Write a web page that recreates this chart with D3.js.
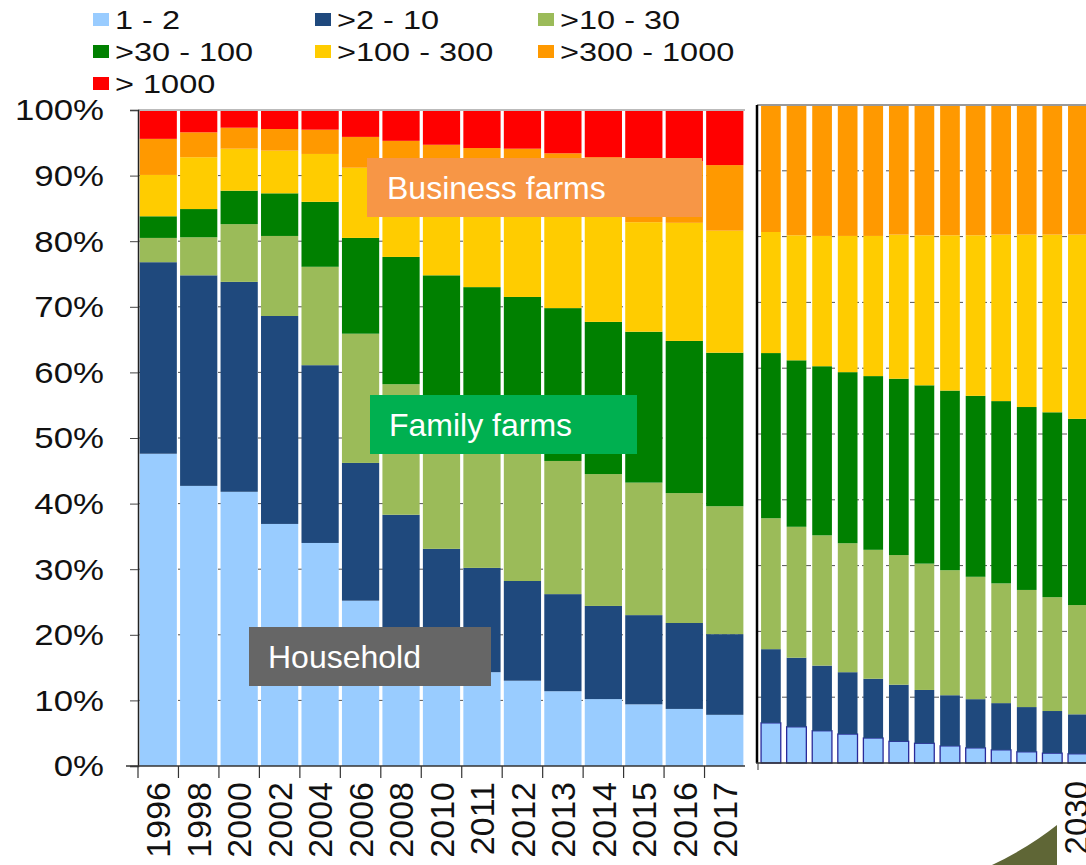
<!DOCTYPE html>
<html>
<head>
<meta charset="utf-8">
<script src="https://cdn.jsdelivr.net/npm/d3@7"></script>
<style>
  html, body { margin: 0; padding: 0; background: #fff; }
  svg { display: block; font-family: "Liberation Sans", Arial, sans-serif; }
</style>
</head>
<body>
<svg id="chart" width="1086" height="865"></svg>
<script>
// ---------- DATA ----------
const seriesNames = ["1 - 2", ">2 - 10", ">10 - 30", ">30 - 100", ">100 - 300", ">300 - 1000", "> 1000"];
const seriesColors = ["#99CCFF", "#1F497D", "#9BBB59", "#008000", "#FFCC00", "#FF9900", "#FF0000"];

// Historical shares (%), 1996-2017
const years = ["1996","1998","2000","2002","2004","2006","2008","2010","2011","2012","2013","2014","2015","2016","2017"];
const ha1_2     = [47.6, 42.7, 41.8, 36.9, 34.0, 25.2, 19.0, 15.5, 14.3, 13.0, 11.4, 10.2, 9.4, 8.7, 7.8];
const ha2_10    = [29.2, 32.1, 32.0, 31.7, 27.1, 21.0, 19.3, 17.6, 15.9, 15.2, 14.8, 14.2, 13.6, 13.1, 12.3];
const ha10_30   = [3.7, 5.8, 8.8, 12.2, 15.0, 19.7, 19.9, 19.9, 20.8, 20.8, 20.3, 20.1, 20.2, 19.8, 19.5];
const ha30_100  = [3.3, 4.3, 5.1, 6.5, 9.9, 14.6, 19.4, 21.8, 22.0, 22.5, 23.3, 23.2, 23.0, 23.2, 23.4];
const ha100_300 = [6.3, 7.9, 6.4, 6.5, 7.3, 10.7, 11.9, 13.7, 15.0, 16.0, 16.7, 17.8, 16.7, 18.0, 18.6];
const ha300_1000= [5.5, 3.8, 3.2, 3.3, 3.7, 4.7, 5.8, 6.2, 6.2, 6.6, 6.9, 7.3, 9.6, 9.4, 10.0];
const ha1000    = [4.4, 3.4, 2.7, 2.9, 3.0, 4.1, 4.7, 5.3, 5.8, 5.9, 6.6, 7.2, 7.5, 7.8, 8.4];

// Projected shares (%), 2018-2030
const projYears = ["2018","2019","2020","2021","2022","2023","2024","2025","2026","2027","2028","2029","2030"];
const projShownLabels = ["2030"];
const p1_2      = [6.1, 5.5, 4.9, 4.4, 3.8, 3.3, 3.0, 2.6, 2.3, 2.0, 1.7, 1.5, 1.4];
const p2_10     = [11.2, 10.5, 9.9, 9.4, 9.0, 8.6, 8.1, 7.7, 7.4, 7.1, 6.8, 6.4, 6.0];
const p10_30    = [19.9, 19.9, 19.8, 19.6, 19.6, 19.7, 19.2, 19.0, 18.6, 18.2, 17.8, 17.3, 16.6];
const p30_100   = [25.1, 25.3, 25.7, 26.0, 26.4, 26.8, 27.1, 27.3, 27.5, 27.7, 27.8, 28.1, 28.3];
const p100_300  = [18.4, 19.0, 19.8, 20.7, 21.3, 21.9, 22.8, 23.6, 24.4, 25.3, 26.2, 27.0, 28.0];
const p300_1000 = [19.3, 19.8, 19.9, 19.9, 19.9, 19.7, 19.8, 19.8, 19.8, 19.7, 19.7, 19.7, 19.7];
const p1000     = [0, 0, 0, 0, 0, 0, 0, 0, 0, 0, 0, 0, 0];

const yTicks = [0, 10, 20, 30, 40, 50, 60, 70, 80, 90, 100];

const annotations = [
  { label: "Business farms", color: "#F79646" },
  { label: "Family farms",   color: "#00B050" },
  { label: "Household",      color: "#666666" }
];

// ---------- BUILD TABLES ----------
const histSeries = [ha1_2, ha2_10, ha10_30, ha30_100, ha100_300, ha300_1000, ha1000];
const projSeries = [p1_2, p2_10, p10_30, p30_100, p100_300, p300_1000, p1000];
function table(cats, series) {
  return cats.map((c, i) => {
    const row = { cat: c };
    seriesNames.forEach((n, k) => row[n] = series[k][i]);
    return row;
  });
}
const histData = table(years, histSeries);
const projData = table(projYears, projSeries);
const stack = d3.stack().keys(seriesNames);

const svg = d3.select("#chart");
const color = d3.scaleOrdinal().domain(seriesNames).range(seriesColors);

// ---------- LEFT PANEL ----------
const L = { x0: 138, x1: 745, yTop: 110, yBot: 766 };
const xL = d3.scaleBand().domain(years).range([L.x0, L.x1]).paddingInner(0.08).paddingOuter(0.04);
const yL = d3.scaleLinear().domain([0, 100]).range([L.yBot, L.yTop]);

// gridlines (dashed, behind bars)
svg.append("g").selectAll("line").data(yTicks.filter(t => t > 0 && t < 100)).join("line")
  .attr("x1", L.x0).attr("x2", L.x1)
  .attr("y1", d => yL(d)).attr("y2", d => yL(d))
  .attr("stroke", "#555").attr("stroke-width", 1).attr("stroke-dasharray", "5,3");

const gL = svg.append("g");
gL.selectAll("g").data(stack(histData)).join("g")
  .attr("fill", d => color(d.key))
  .selectAll("rect").data(d => d).join("rect")
  .attr("x", d => xL(d.data.cat))
  .attr("width", xL.bandwidth())
  .attr("y", d => yL(d[1]))
  .attr("height", d => yL(d[0]) - yL(d[1]));

// top gray line
svg.append("line").attr("x1", L.x0).attr("x2", L.x1).attr("y1", L.yTop).attr("y2", L.yTop)
  .attr("stroke", "#BBBBBB").attr("stroke-width", 2);

// y axis
const yAxisL = d3.axisLeft(yL).tickValues(yTicks).tickSize(8).tickFormat("");
const gyL = svg.append("g").attr("transform", `translate(${L.x0},0)`).call(yAxisL);
gyL.select(".domain").attr("stroke", "#222").attr("stroke-width", 1.5);
gyL.selectAll(".tick line").attr("stroke", "#444");
// y labels
svg.append("g").selectAll("text").data(yTicks).join("text")
  .attr("transform", d => `translate(104,${yL(d)}) scale(1.2,1)`)
  .attr("text-anchor", "end").attr("dy", "0.36em")
  .attr("font-size", 29).attr("fill", "#111")
  .text(d => d + "%");

// x axis
svg.append("line").attr("x1", 126).attr("x2", L.x1).attr("y1", L.yBot).attr("y2", L.yBot)
  .attr("stroke", "#333").attr("stroke-width", 1.5);
svg.append("g").selectAll("line").data(years).join("line")
  .attr("x1", d => xL(d) - xL.step() * xL.paddingInner() / 2)
  .attr("x2", d => xL(d) - xL.step() * xL.paddingInner() / 2)
  .attr("y1", L.yBot).attr("y2", L.yBot + 12)
  .attr("stroke", "#333").attr("stroke-width", 1.2);
svg.append("g").selectAll("text").data(years).join("text")
  .attr("transform", d => `translate(${xL(d) + xL.bandwidth() / 2},782) rotate(-90)`)
  .attr("text-anchor", "end").attr("dy", "0.36em")
  .attr("font-size", 34).attr("fill", "#111")
  .text(d => d);

// ---------- RIGHT PANEL ----------
const R = { x0: 758, yTop: 105, yBot: 763 };
const stepR = 25.6;
const xR = d3.scaleBand().domain(projYears).range([R.x0, R.x0 + stepR * projYears.length]).paddingInner(0.23).paddingOuter(0.12);
const yR = d3.scaleLinear().domain([0, 100]).range([R.yBot, R.yTop]);

svg.append("g").selectAll("line").data(yTicks.filter(t => t > 0 && t < 100)).join("line")
  .attr("x1", R.x0).attr("x2", 1086)
  .attr("y1", d => yR(d)).attr("y2", d => yR(d))
  .attr("stroke", "#555").attr("stroke-width", 1).attr("stroke-dasharray", "5,3");

const gR = svg.append("g");
gR.selectAll("g").data(stack(projData)).join("g")
  .attr("fill", d => color(d.key))
  .each(function(s) {
    d3.select(this).selectAll("rect").data(s).join("rect")
      .attr("x", d => xR(d.data.cat))
      .attr("width", xR.bandwidth())
      .attr("y", d => yR(d[1]))
      .attr("height", d => Math.max(0, yR(d[0]) - yR(d[1])))
      .attr("stroke", s.key === seriesNames[0] ? "#2A2A9A" : "none")
      .attr("stroke-width", s.key === seriesNames[0] ? 1.3 : 0);
  });

svg.append("line").attr("x1", R.x0 - 1).attr("x2", 1086).attr("y1", R.yTop).attr("y2", R.yTop)
  .attr("stroke", "#999").attr("stroke-width", 2);
svg.append("line").attr("x1", R.x0 - 1).attr("x2", R.x0 - 1).attr("y1", R.yTop).attr("y2", R.yBot)
  .attr("stroke", "#000").attr("stroke-width", 2.5);
svg.append("line").attr("x1", R.x0 - 2).attr("x2", 1086).attr("y1", R.yBot).attr("y2", R.yBot)
  .attr("stroke", "#333").attr("stroke-width", 1.5);
svg.append("line").attr("x1", R.x0).attr("x2", R.x0).attr("y1", R.yBot).attr("y2", R.yBot + 7)
  .attr("stroke", "#333").attr("stroke-width", 1);

// olive decoration
svg.append("path").attr("d", "M1057,825 L1057,865 L992,865 Q1028,848 1057,825 Z").attr("fill", "#5F6636");

svg.append("g").selectAll("text").data(projShownLabels).join("text")
  .attr("transform", d => `translate(${xR(d) + xR.bandwidth() / 2 - 2},781) rotate(-90)`)
  .attr("text-anchor", "end").attr("dy", "0.36em")
  .attr("font-size", 33).attr("fill", "#111")
  .text(d => d);

// ---------- ANNOTATION BOXES ----------
const boxPos = [
  { x: 367, y: 158, w: 335, h: 59, tx: 387 },
  { x: 370, y: 395, w: 267, h: 59, tx: 389 },
  { x: 249, y: 627, w: 242, h: 59, tx: 268 }
];
annotations.forEach((a, i) => {
  const p = boxPos[i];
  svg.append("rect").attr("x", p.x).attr("y", p.y).attr("width", p.w).attr("height", p.h).attr("fill", a.color);
  svg.append("text").attr("x", p.tx).attr("y", p.y + p.h / 2).attr("dy", "0.36em")
    .attr("font-size", 32).attr("fill", "#fff").text(a.label);
});

// ---------- LEGEND ----------
const legX = [93, 315, 538];
const legY = [20, 52, 84];
const leg = svg.append("g").selectAll("g").data(seriesNames).join("g")
  .attr("transform", (d, i) => `translate(${legX[i % 3]},${legY[Math.floor(i / 3)]})`);
leg.append("rect").attr("x", 0).attr("y", -7).attr("width", 16).attr("height", 13).attr("fill", d => color(d));
leg.append("text").attr("transform", "translate(22,0) scale(1.3,1)")
  .attr("dy", "0.36em").attr("font-size", 25).attr("fill", "#111").text(d => d);
</script>
</body>
</html>
